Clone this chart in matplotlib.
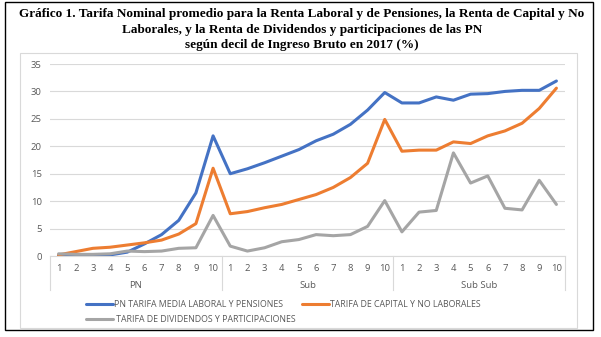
import matplotlib
matplotlib.use("Agg")
import matplotlib.pyplot as plt
from matplotlib.lines import Line2D
from matplotlib.patches import Rectangle

# Decile labels within each taxpayer group
deciles = ["1", "2", "3", "4", "5", "6", "7", "8", "9", "10"]
groups = ["PN", "Sub", "Sub Sub"]

series_names = [
    "PN TARIFA MEDIA LABORAL Y PENSIONES",
    "TARIFA DE CAPITAL Y NO LABORALES",
    " TARIFA DE DIVIDENDOS Y PARTICIPACIONES",
]

laboral = [0.1, 0.1, 0.1, 0.2, 0.7, 2.2, 3.9, 6.5, 11.5, 21.9,
           15.0, 15.9, 17.0, 18.2, 19.4, 21.0, 22.2, 24.0, 26.6, 29.8,
           27.9, 27.9, 29.0, 28.4, 29.5, 29.6, 30.0, 30.2, 30.2, 31.9]
capital = [0.2, 0.8, 1.4, 1.6, 2.0, 2.4, 2.9, 4.0, 5.9, 16.0,
           7.7, 8.1, 8.8, 9.4, 10.3, 11.2, 12.5, 14.3, 16.9, 24.9,
           19.1, 19.3, 19.3, 20.8, 20.5, 21.9, 22.8, 24.2, 26.9, 30.6]
dividendos = [0.4, 0.3, 0.3, 0.4, 0.9, 0.8, 0.9, 1.4, 1.5, 7.4,
              1.8, 0.9, 1.5, 2.6, 3.0, 3.9, 3.7, 3.9, 5.4, 10.1,
              4.4, 8.0, 8.3, 18.8, 13.3, 14.6, 8.7, 8.4, 13.8, 9.4]

y_ticks = [0, 5, 10, 15, 20, 25, 30, 35]

colors = ["#4472C4", "#ED7D31", "#A5A5A5"]
grid_col = "#D9D9D9"
text_col = "#595959"

W, H = 601, 337
fig = plt.figure(figsize=(W / 100, H / 100), dpi=100)

def fx(px):
    return px / W

def fy(py):
    return 1 - py / H

# outer black frame and inner light chart frame
fig.add_artist(Rectangle((fx(5), fy(330)), fx(593) - fx(5), fy(2) - fy(330),
                         transform=fig.transFigure, fill=False, lw=1.0, ec="black"))
fig.add_artist(Rectangle((fx(20), fy(328)), fx(577) - fx(20), fy(53) - fy(328),
                         transform=fig.transFigure, fill=False, lw=0.8, ec=grid_col))

title_lines = [
    "Gráfico 1. Tarifa Nominal promedio para la Renta Laboral y de Pensiones, la Renta de Capital y No",
    "Laborales, y la Renta de Dividendos y participaciones de las PN",
    "según decil de Ingreso Bruto en 2017 (%)",
]
for line, py in zip(title_lines, [14, 30, 45]):
    fig.text(fx(302), fy(py), line, ha="center", va="center",
             family="Liberation Serif", weight="bold", fontsize=9.5, color="black")

ax = fig.add_axes([fx(50), fy(256), fx(565) - fx(50), fy(64) - fy(256)])

n = len(laboral)
xs = list(range(n))
handles = []
for vals, col, name in zip([laboral, capital, dividendos], colors, series_names):
    h, = ax.plot(xs, vals, color=col, lw=2.2, solid_capstyle="round",
                 solid_joinstyle="round", label=name, zorder=3)
    handles.append(h)

ax.set_xlim(-0.5, n - 0.5)
ax.set_ylim(0, 35)
ax.set_yticks(y_ticks)
ax.set_yticklabels([str(v) for v in y_ticks])
ax.grid(axis="y", color=grid_col, lw=0.8)
ax.set_axisbelow(True)
for side in ["top", "right", "left"]:
    ax.spines[side].set_visible(False)
ax.spines["bottom"].set_color(grid_col)
ax.spines["bottom"].set_linewidth(0.8)

ax.set_xticks(xs)
ax.set_xticklabels(deciles * len(groups))
ax.tick_params(axis="x", length=0, pad=6, labelsize=6.8, labelcolor=text_col)
ax.tick_params(axis="y", length=0, pad=6, labelsize=6.8, labelcolor=text_col)
for lab in ax.get_xticklabels() + ax.get_yticklabels():
    lab.set_family("Open Sans")

# group separators and group labels under the deciles
trans = ax.get_xaxis_transform()
for k in range(len(groups) + 1):
    xb = k * 10 - 0.5
    ax.add_line(Line2D([xb, xb], [0, -34 / 192], transform=trans, color=grid_col,
                       lw=0.8, clip_on=False))
for k, g in enumerate(groups):
    ax.text(k * 10 + 4.5, -29 / 192, g, transform=trans, ha="center", va="center",
            family="Open Sans", fontsize=6.8, color=text_col)

leg = fig.legend([handles[0], handles[2], handles[1]],
                 [series_names[0], series_names[2], series_names[1]],
                 ncol=2, loc="upper left", bbox_to_anchor=(fx(78), fy(292)),
                 frameon=False, handlelength=3.1, handletextpad=0.12,
                 columnspacing=0.75, labelspacing=0.75,
                 prop={"family": "Open Sans", "size": 6.3})
for t in leg.get_texts():
    t.set_color(text_col)

fig.savefig("out.png", dpi=100)
